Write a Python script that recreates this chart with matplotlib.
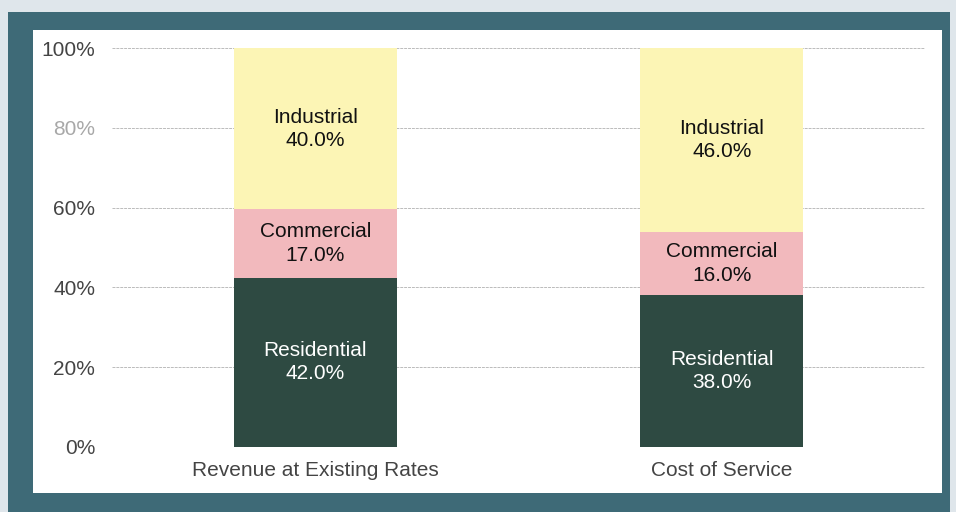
import numpy as np
import matplotlib.pyplot as plt
from matplotlib.patches import Rectangle

plt.rcParams['font.family'] = ['Liberation Sans', 'DejaVu Sans']

# данные
categories = ["Revenue at Existing Rates", "Cost of Service"]
segments = ["Residential", "Commercial", "Industrial"]
residential = [42.0, 38.0]
commercial = [17.0, 16.0]
industrial = [40.0, 46.0]
yticks = [0, 20, 40, 60, 80, 100]
ytick_labels = ["0%", "20%", "40%", "60%", "80%", "100%"]

colors = {"Residential": "#2e4a42", "Commercial": "#f2b9bd", "Industrial": "#fcf5b5"}
text_colors = {"Residential": "white", "Commercial": "#111111", "Industrial": "#111111"}

fig = plt.figure(figsize=(9.56, 5.12), dpi=100)
fig.patch.set_facecolor("#dfe6eb")

# рамка и белая панель
W, H = 956, 512
fig.add_artist(Rectangle((8 / W, 0), 942 / W, 500 / H, transform=fig.transFigure,
                         facecolor="#3e6a77", edgecolor="none", zorder=-2))
fig.add_artist(Rectangle((33 / W, 19 / H), 909 / W, 463 / H, transform=fig.transFigure,
                         facecolor="white", edgecolor="none", zorder=-1))

ax = fig.add_axes([112 / W, 1 - 447 / H, 813 / W, 399 / H])
ax.set_zorder(2)
ax.set_facecolor("none")

# 100% stacked: нормируем высоты, подписи — исходные значения
data = np.array([residential, commercial, industrial])
totals = data.sum(axis=0)
x = np.arange(len(categories))
width = 0.4
bottom = np.zeros(len(categories))
for name, vals in zip(segments, data):
    h = vals / totals * 100
    ax.bar(x, h, width, bottom=bottom, color=colors[name], zorder=3)
    for xi, b, hh, v in zip(x, bottom, h, vals):
        ax.text(xi, b + hh / 2, f"{name}\n{v:.1f}%", ha="center", va="center",
                fontsize=15, color=text_colors[name], linespacing=1.28, zorder=4)
    bottom += h

ax.set_xlim(-0.5, 1.5)
ax.set_ylim(0, 100)
ax.set_yticks(yticks)
ax.set_yticklabels(ytick_labels)
ax.set_xticks(x)
ax.set_xticklabels(categories)
ax.tick_params(axis="both", length=0, labelsize=15, labelcolor="#444444")
ax.tick_params(axis="y", pad=12)
ax.tick_params(axis="x", pad=10)
ax.get_yticklabels()[4].set_color("#a8a8a8")
ax.grid(axis="y", color="#bbbbbb", linewidth=0.7, linestyle=(0, (3, 1)), zorder=1)
for s in ax.spines.values():
    s.set_visible(False)

plt.savefig("out.png", dpi=100, facecolor=fig.get_facecolor())
